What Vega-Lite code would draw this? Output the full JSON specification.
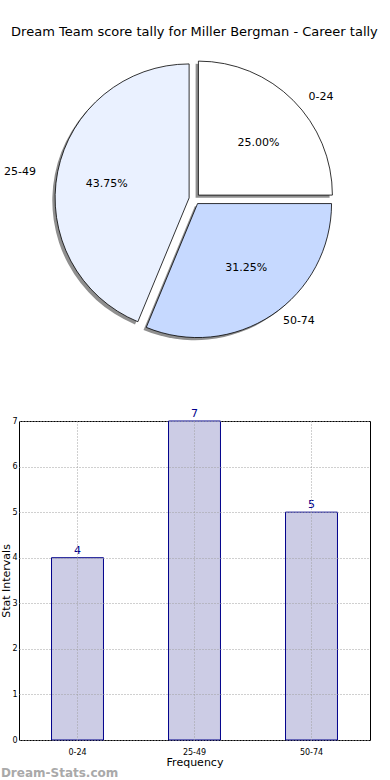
{
  "$schema": "https://vega.github.io/schema/vega-lite/v6.json",
  "padding": {"left": 0, "top": 26, "right": 0, "bottom": 0},
  "autosize": {"type": "pad"},
  "bounds": "flush",
  "spacing": 72,
  "config": {
    "font": "DejaVu Sans",
    "view": {"stroke": null},
    "title": {"font": "DejaVu Sans", "fontWeight": "normal", "color": "#000000"}
  },
  "title": {"text": "Dream Team score tally for Miller Bergman - Career tally", "fontSize": 13, "anchor": "middle", "offset": 10, "dx": 9},
  "vconcat": [
    {
      "width": 351,
      "height": 300,
      "data": {"values": [
        {"category": "0-24", "count": 4, "order": 1, "pct": "25.00%"},
        {"category": "50-74", "count": 5, "order": 2, "pct": "31.25%"},
        {"category": "25-49", "count": 7, "order": 3, "pct": "43.75%"}
      ]},
      "encoding": {
        "theta": {"field": "count", "type": "quantitative", "stack": true},
        "order": {"field": "order", "type": "quantitative"}
      },
      "layer": [
        {"mark": {"type": "arc", "radius": 134, "fill": "#8f8f8f", "xOffset": 1.1, "yOffset": -1.3},
         "encoding": {"opacity": {"condition": {"test": "datum.category === '0-24'", "value": 1}, "value": 0}}},
        {"mark": {"type": "arc", "radius": 134, "fill": "#8f8f8f", "xOffset": 0.3, "yOffset": 7.2},
         "encoding": {"opacity": {"condition": {"test": "datum.category === '50-74'", "value": 1}, "value": 0}}},
        {"mark": {"type": "arc", "radius": 134, "fill": "#8f8f8f", "xOffset": -8.2, "yOffset": 1.6},
         "encoding": {"opacity": {"condition": {"test": "datum.category === '25-49'", "value": 1}, "value": 0}}},
        {"mark": {"type": "arc", "radius": 134, "stroke": "#000000", "strokeWidth": 0.8, "xOffset": 3.9, "yOffset": -3.9},
         "encoding": {
           "color": {"field": "category", "type": "nominal", "scale": {"domain": ["0-24", "25-49", "50-74"], "range": ["#ffffff", "#eaf1ff", "#c6d9ff"]}, "legend": null},
           "opacity": {"condition": {"test": "datum.category === '0-24'", "value": 1}, "value": 0}}},
        {"mark": {"type": "arc", "radius": 134, "stroke": "#000000", "strokeWidth": 0.8, "xOffset": 3.06, "yOffset": 4.57},
         "encoding": {
           "color": {"field": "category", "type": "nominal", "scale": {"domain": ["0-24", "25-49", "50-74"], "range": ["#ffffff", "#eaf1ff", "#c6d9ff"]}, "legend": null},
           "opacity": {"condition": {"test": "datum.category === '50-74'", "value": 1}, "value": 0}}},
        {"mark": {"type": "arc", "radius": 134, "stroke": "#000000", "strokeWidth": 0.8, "xOffset": -5.39, "yOffset": -1.07},
         "encoding": {
           "color": {"field": "category", "type": "nominal", "scale": {"domain": ["0-24", "25-49", "50-74"], "range": ["#ffffff", "#eaf1ff", "#c6d9ff"]}, "legend": null},
           "opacity": {"condition": {"test": "datum.category === '25-49'", "value": 1}, "value": 0}}},
        {"mark": {"type": "text", "radius": 150, "align": "left", "baseline": "middle", "fontSize": 11, "xOffset": 3.9, "yOffset": -3.9, "dx": 4, "dy": 8},
         "encoding": {"text": {"condition": {"test": "datum.category === '0-24'", "field": "category"}, "value": ""}}},
        {"mark": {"type": "text", "radius": 150, "align": "left", "baseline": "middle", "fontSize": 11, "xOffset": 3.06, "yOffset": 4.57, "dx": 2, "dy": -7},
         "encoding": {"text": {"condition": {"test": "datum.category === '50-74'", "field": "category"}, "value": ""}}},
        {"mark": {"type": "text", "radius": 150, "align": "right", "baseline": "middle", "fontSize": 11, "xOffset": -5.39, "yOffset": -1.07, "dx": -6, "dy": 3},
         "encoding": {"text": {"condition": {"test": "datum.category === '25-49'", "field": "category"}, "value": ""}}},
        {"mark": {"type": "text", "radius": 82, "align": "center", "baseline": "middle", "fontSize": 11, "xOffset": 3.9, "yOffset": -3.9, "dx": 2, "dy": 6},
         "encoding": {"text": {"condition": {"test": "datum.category === '0-24'", "field": "pct"}, "value": ""}}},
        {"mark": {"type": "text", "radius": 82, "align": "center", "baseline": "middle", "fontSize": 11, "xOffset": 3.06, "yOffset": 4.57, "dx": 3, "dy": -4},
         "encoding": {"text": {"condition": {"test": "datum.category === '50-74'", "field": "pct"}, "value": ""}}},
        {"mark": {"type": "text", "radius": 82, "align": "center", "baseline": "middle", "fontSize": 11, "xOffset": -5.39, "yOffset": -1.07, "dx": -2, "dy": 2},
         "encoding": {"text": {"condition": {"test": "datum.category === '25-49'", "field": "pct"}, "value": ""}}}
      ]
    },
    {
      "width": 351,
      "height": 319,
      "view": {"stroke": "#000000", "strokeWidth": 1},
      "title": {"text": "Dream-Stats.com", "orient": "bottom", "anchor": "start", "frame": "bounds", "fontSize": 12, "fontWeight": "bold", "color": "#a9a9a9", "offset": 1},
      "data": {"values": [
        {"interval": "0-24", "count": 4},
        {"interval": "25-49", "count": 7},
        {"interval": "50-74", "count": 5}
      ]},
      "encoding": {
        "x": {"field": "interval", "type": "nominal", "sort": null,
              "scale": {"paddingInner": 0.556, "paddingOuter": 0.278},
              "axis": {"title": "Frequency", "titleFontSize": 11, "titleFontWeight": "normal", "titlePadding": 0, "labelFontSize": 8, "labelAngle": 0, "labelPadding": 8, "ticks": false, "tickSize": 0, "domain": false, "grid": true, "bandPosition": 0.5, "gridDash": [1, 2], "gridColor": "#a0a0a0", "zindex": 1}},
        "y": {"field": "count", "type": "quantitative",
              "scale": {"domain": [0, 7], "nice": false},
              "axis": {"title": "Stat Intervals", "titleFontSize": 11, "titleFontWeight": "normal", "titlePadding": 0, "labelFontSize": 8, "labelPadding": 2, "ticks": false, "tickSize": 0, "domain": false, "values": [0, 1, 2, 3, 4, 5, 6, 7], "grid": true, "gridDash": [1, 2], "gridColor": "#a0a0a0", "zindex": 1}}
      },
      "layer": [
        {"mark": {"type": "bar", "fill": "#cccce5", "stroke": "#00008b", "strokeWidth": 1}},
        {"mark": {"type": "text", "baseline": "bottom", "dy": -2, "fontSize": 11, "color": "#00008b"},
         "encoding": {"text": {"field": "count", "type": "quantitative"}}}
      ]
    }
  ]
}
